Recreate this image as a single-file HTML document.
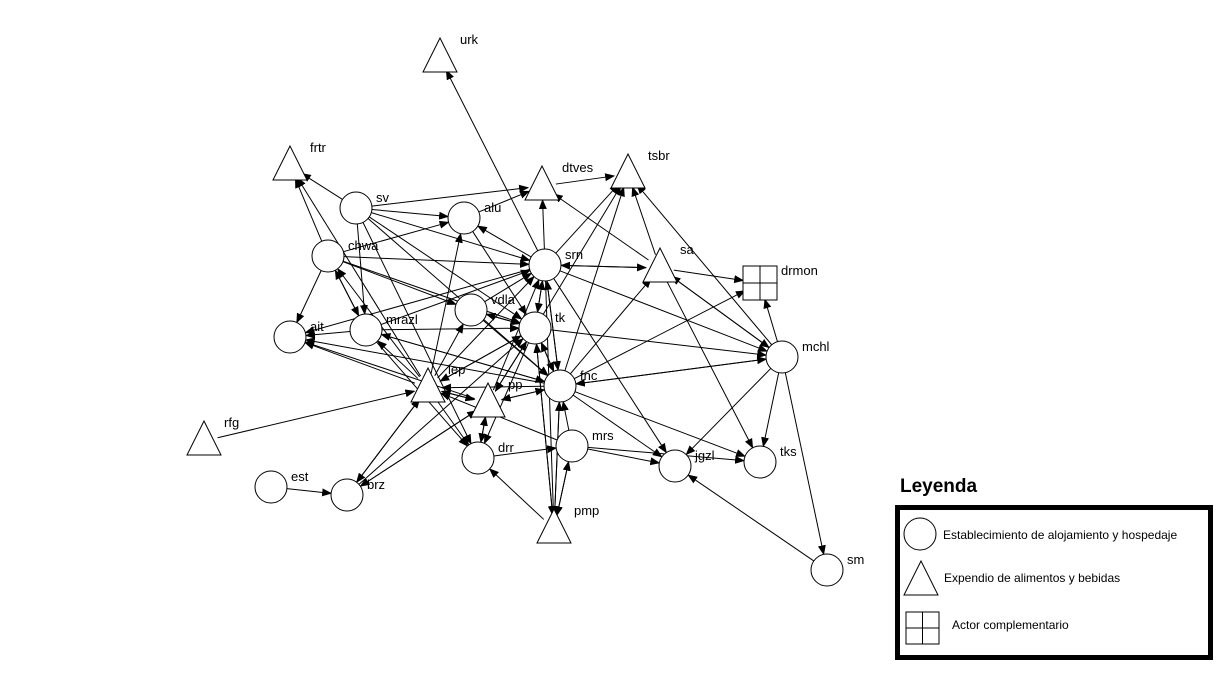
<!DOCTYPE html>
<html><head><meta charset="utf-8"><style>
body{margin:0;background:#fff;width:1224px;height:673px;overflow:hidden}
svg{display:block}
text{font-family:"Liberation Sans",sans-serif;font-size:13px;fill:#000}
</style></head><body>
<svg id="s" width="1224" height="673" viewBox="0 0 1224 673">
<defs><marker id="a" markerWidth="10" markerHeight="8" refX="9" refY="4" orient="auto" markerUnits="userSpaceOnUse"><path d="M0,0 L10,4 L0,8 z" fill="#000"/></marker></defs>
<g id="e" stroke="#000" stroke-width="1" fill="none"></g>
<g id="n" stroke="#000" stroke-width="1" fill="#fff"></g>
<g id="l"></g>
<text x="900" y="492" style="font-size:19px;font-weight:bold">Leyenda</text>
<rect x="897.5" y="507.5" width="313" height="150" fill="#fff" stroke="#000" stroke-width="5"/>
<circle cx="920" cy="534" r="16" fill="#fff" stroke="#000"/>
<text x="943" y="539" style="font-size:12px">Establecimiento de alojamiento y hospedaje</text>
<polygon points="921,561 904,595 938,595" fill="#fff" stroke="#000"/>
<text x="944" y="582" style="font-size:12px">Expendio de alimentos y bebidas</text>
<rect x="906" y="612" width="33" height="32" fill="#fff" stroke="#000"/>
<line x1="922.5" y1="612" x2="922.5" y2="644" stroke="#000"/><line x1="906" y1="628" x2="939" y2="628" stroke="#000"/>
<text x="952" y="629" style="font-size:12px">Actor complementario</text>
</svg>
<script>
var N={urk:[440,58,'t'],frtr:[290,166,'t'],sv:[356,208,'c'],alu:[464,218,'c'],dtves:[542,186,'t'],tsbr:[628,174,'t'],chwa:[328,256,'c'],srn:[545,265,'c'],sa:[660,268,'t'],drmon:[760,283,'s'],ait:[290,337,'c'],mrazl:[366,330,'c'],vdla:[471,310,'c'],tk:[535,328,'c'],mchl:[782,357,'c'],lep:[428,388,'t'],pp:[488,403,'t'],fnc:[560,386,'c'],rfg:[204,441,'t'],drr:[478,458,'c'],mrs:[572,446,'c'],jgzl:[675,466,'c'],tks:[760,462,'c'],est:[271,487,'c'],brz:[347,495,'c'],pmp:[554,529,'t'],sm:[827,570,'c']};
var E="sv frtr,sv dtves,sv alu,sv srn,sv tk,sv fnc,sv drr,chwa frtr,chwa ait,chwa srn,chwa tk,chwa alu,chwa mrazl,chwa vdla,mrazl chwa,mrazl ait,mrazl tk,mrazl srn,mrazl fnc,mrazl drr,lep frtr,lep chwa,lep ait,lep mrazl,lep vdla,lep tk,lep srn,lep alu,lep brz,lep drr,lep pp,rfg lep,est brz,brz lep,brz pp,brz tk,pp ait,pp lep,pp tk,pp srn,pp fnc,pp drr,pp brz,alu dtves,alu tk,srn alu,srn dtves,srn tsbr,srn sa,srn tk,srn fnc,srn pmp,srn jgzl,srn ait,srn urk,tk srn,tk vdla,tk fnc,tk pmp,tk lep,tk pp,tk drr,tk tsbr,tk mchl,vdla tk,vdla srn,vdla fnc,fnc tk,fnc srn,fnc tsbr,fnc sa,fnc mchl,fnc drmon,fnc jgzl,fnc tks,fnc pmp,fnc pp,fnc lep,fnc mrazl,fnc ait,sa srn,sa drmon,sa tks,sa mchl,sa dtves,sa tsbr,mchl drmon,mchl tks,mchl sm,mchl fnc,mchl jgzl,mchl tsbr,mchl sa,mrs fnc,mrs jgzl,mrs tks,mrs pmp,mrs lep,drr mrs,drr pp,pmp drr,pmp mrs,pmp fnc,pmp tk,sm jgzl,srn mchl,dtves tsbr,sv mrazl".split(',');
var ns="http://www.w3.org/2000/svg",eg=document.getElementById('e'),ng=document.getElementById('n'),lg=document.getElementById('l');
function R(t){return t=='c'?16:t=='t'?14:17}
E.forEach(function(p){var q=p.split(' '),a=N[q[0]],b=N[q[1]];var dx=b[0]-a[0],dy=b[1]-a[1],d=Math.hypot(dx,dy);var ra=R(a[2]),rb=R(b[2]);var L=document.createElementNS(ns,'line');L.setAttribute('x1',a[0]+dx/d*ra);L.setAttribute('y1',a[1]+dy/d*ra);L.setAttribute('x2',b[0]-dx/d*rb);L.setAttribute('y2',b[1]-dy/d*rb);L.setAttribute('marker-end','url(#a)');eg.appendChild(L);});
for(var k in N){var v=N[k],x=v[0],y=v[1],el;
if(v[2]=='c'){el=document.createElementNS(ns,'circle');el.setAttribute('cx',x);el.setAttribute('cy',y);el.setAttribute('r',16);ng.appendChild(el);}
else if(v[2]=='t'){el=document.createElementNS(ns,'polygon');el.setAttribute('points',(x)+','+(y-20)+' '+(x-17)+','+(y+14)+' '+(x+17)+','+(y+14));ng.appendChild(el);}
else{el=document.createElementNS(ns,'rect');el.setAttribute('x',x-17);el.setAttribute('y',y-17);el.setAttribute('width',34);el.setAttribute('height',34);ng.appendChild(el);
var l1=document.createElementNS(ns,'path');l1.setAttribute('d','M'+x+','+(y-17)+'V'+(y+17)+'M'+(x-17)+','+y+'H'+(x+17));ng.appendChild(l1);}
var t=document.createElementNS(ns,'text');var ox=v[2]=='c'?20:v[2]=='t'?20:21,oy=v[2]=='c'?-6:v[2]=='t'?-14:-8;
t.setAttribute('x',x+ox);t.setAttribute('y',y+oy);t.textContent=k;lg.appendChild(t);}
</script>
</body></html>
